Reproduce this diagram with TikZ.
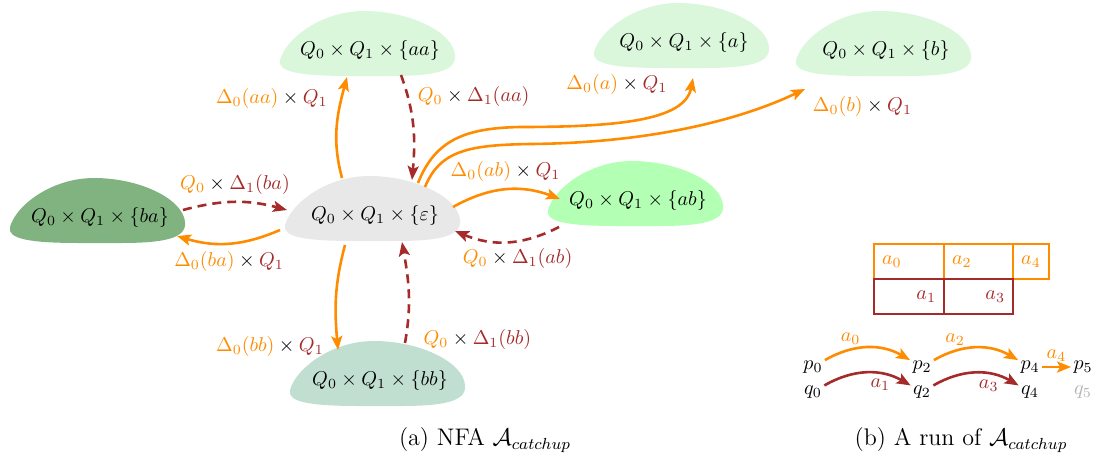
\documentclass[tikz,border=0pt]{standalone}
\usepackage{tikz}
\usetikzlibrary{arrows.meta,backgrounds}

\definecolor{runA}{HTML}{FF8C00}
\definecolor{runB}{HTML}{A52A2A}
\definecolor{stEps}{HTML}{E8E8E8}
\definecolor{stLight}{HTML}{DAF7DC}
\definecolor{stAB}{HTML}{B3FFB3}
\definecolor{stBA}{HTML}{80B380}
\definecolor{stBB}{HTML}{C0DFD0}
\newcommand{\ca}[1]{\textcolor{runA}{#1}}
\newcommand{\cb}[1]{\textcolor{runB}{#1}}

\tikzset{
  arrowhd/.style={-{Stealth[length=7pt,width=5.5pt,inset=1.5pt]}},
  fwd/.style={draw=runA, line width=1.3pt, arrowhd},
  bwd/.style={draw=runB, line width=1.3pt, dash pattern=on 4.5pt off 3pt, arrowhd},
  cellA/.style={draw=runA, text=runA, line width=1pt, minimum height=17.5pt,
    inner xsep=4pt, outer sep=0pt, anchor=north west},
  cellB/.style={cellA, draw=runB, text=runB},
}

\begin{document}
\begin{tikzpicture}[x=0.5pt,y=0.5pt]
  \useasboundingbox (0,0) rectangle (1101,-461);

  % states of the NFA
  \begin{scope}[every node/.style={inner sep=2pt}]
    \node (eps) at (375,-215) {$Q_0\times Q_1\times\{\varepsilon\}$};
    \node (aa)  at (370,-50)  {$Q_0\times Q_1\times\{aa\}$};
    \node (a)   at (684,-42)  {$Q_0\times Q_1\times\{a\}$};
    \node (b)   at (886,-50)  {$Q_0\times Q_1\times\{b\}$};
    \node (ab)  at (638,-200) {$Q_0\times Q_1\times\{ab\}$};
    \node (ba)  at (100,-217) {$Q_0\times Q_1\times\{ba\}$};
    \node (bb)  at (380,-380) {$Q_0\times Q_1\times\{bb\}$};
  \end{scope}

  \begin{scope}[on background layer]
    \foreach \n/\c in {eps/stEps, aa/stLight, a/stLight, b/stLight,
                       ab/stAB, ba/stBA, bb/stBB}
      \fill[\c, shift={(\n.center)}] (-6,39)
        .. controls (-48,39) and (-84,12) .. (-90,-10)
        .. controls (-93,-22) and (-70,-26) .. (-20,-26)
        -- (20,-26)
        .. controls (62,-26) and (87,-22) .. (85,-5)
        .. controls (83,18) and (40,39) .. (-6,39) -- cycle;
  \end{scope}

  % transitions
  \path ([shift={(-33,37)}]eps.center) edge[fwd, out=105, in=-105]
    node[pos=.8, left=3pt] {$\ca{\Delta_0(aa)}\times\cb{Q_1}$} ([shift={(-23,-27)}]aa.center);
  \path ([shift={(31,-25)}]aa.center) edge[bwd, out=-70, in=85]
    node[pos=.2, right=1pt] {$\ca{Q_0}\times\cb{\Delta_1(aa)}$} ([shift={(37,35)}]eps.center);

  \draw[fwd] ([shift={(43,32)}]eps.center) .. controls (435,-140) and (465,-128) .. (520,-127)
    .. controls (620,-127) and (685,-120) .. ([shift={(9,-36)}]a.center)
    node[pos=.95, left=8pt] {$\ca{\Delta_0(a)}\times\cb{Q_1}$};
  \draw[fwd] ([shift={(50,28)}]eps.center) .. controls (440,-150) and (470,-145) .. (530,-144)
    .. controls (650,-143) and (740,-120) .. ([shift={(-81,-39)}]b.center)
    node[anchor=north west] {$\ca{\Delta_0(b)}\times\cb{Q_1}$};

  \path ([shift={(78,8)}]eps.center) edge[fwd, bend left=25]
    node[above] {$\ca{\Delta_0(ab)}\times\cb{Q_1}$} ([shift={(-78,1)}]ab.center);
  \path ([shift={(-79,-27)}]ab.center) edge[bwd, bend left=25]
    node[pos=.4, below] {$\ca{Q_0}\times\cb{\Delta_1(ab)}$} ([shift={(80,-16)}]eps.center);

  \path ([shift={(83,7)}]ba.center) edge[bwd, bend left=15]
    node[above] {$\ca{Q_0}\times\cb{\Delta_1(ba)}$} ([shift={(-88,5)}]eps.center);
  \path ([shift={(-95,-15)}]eps.center) edge[fwd, bend left=20]
    node[below] {$\ca{\Delta_0(ba)}\times\cb{Q_1}$} ([shift={(77,-19)}]ba.center);

  \path ([shift={(-30,-30)}]eps.center) edge[fwd, out=-105, in=95]
    node[pos=.97, left=3pt] {$\ca{\Delta_0(bb)}\times\cb{Q_1}$} ([shift={(-42,30)}]bb.center);
  \path ([shift={(25,37)}]bb.center) edge[bwd, out=80, in=-80]
    node[pos=.03, right=5pt] {$\ca{Q_0}\times\cb{\Delta_1(bb)}$} ([shift={(27,-27)}]eps.center);

  % the run
  \node[cellA, text width=27pt, align=left] (c0) at (874,-244) {$a_0$};
  \node[cellA, text width=26.5pt, align=left] (c2) at (c0.north east) {$a_2$};
  \node[cellA, text width=10pt, align=center] (c4) at (c2.north east) {$a_4$};
  \node[cellB, text width=27pt, align=right] (c1) at (c0.south west) {$a_1$};
  \node[cellB, text width=26.5pt, align=right] (c3) at (c1.north east) {$a_3$};

  \begin{scope}[every node/.style={inner sep=1pt}]
    \node (p0) at (813,-367) {$p_0$};
    \node (p2) at (922,-367) {$p_2$};
    \node (p4) at (1030,-367) {$p_4$};
    \node (p5) at (1083,-367) {$p_5$};
    \node (q0) at (813,-392) {$q_0$};
    \node (q2) at (922,-392) {$q_2$};
    \node (q4) at (1030,-392) {$q_4$};
    \node[text=black!30] (q5) at (1083,-392) {$q_5$};
  \end{scope}

  \begin{scope}[every node/.style={inner sep=2pt}]
    \path (p0) edge[fwd, bend left=30] node[pos=.3, above, text=runA] {$a_0$} (p2);
    \path (p2) edge[fwd, bend left=30] node[pos=.25, above, text=runA] {$a_2$} (p4);
    \path (p4) edge[fwd] node[above, text=runA] {$a_4$} (p5);
    \path (q0) edge[draw=runB, line width=1.3pt, arrowhd, bend left=30]
      node[pos=.65, below, text=runB] {$a_1$} (q2);
    \path (q2) edge[draw=runB, line width=1.3pt, arrowhd, bend left=30]
      node[pos=.65, below, text=runB] {$a_3$} (q4);
  \end{scope}

  % captions
  \node (capa) at (485,-440) {\large (a) NFA $\mathcal{A}_{catchup}$};
  \node (capb) at (961,-440) {\large (b) A run of $\mathcal{A}_{catchup}$};
\end{tikzpicture}
\end{document}
